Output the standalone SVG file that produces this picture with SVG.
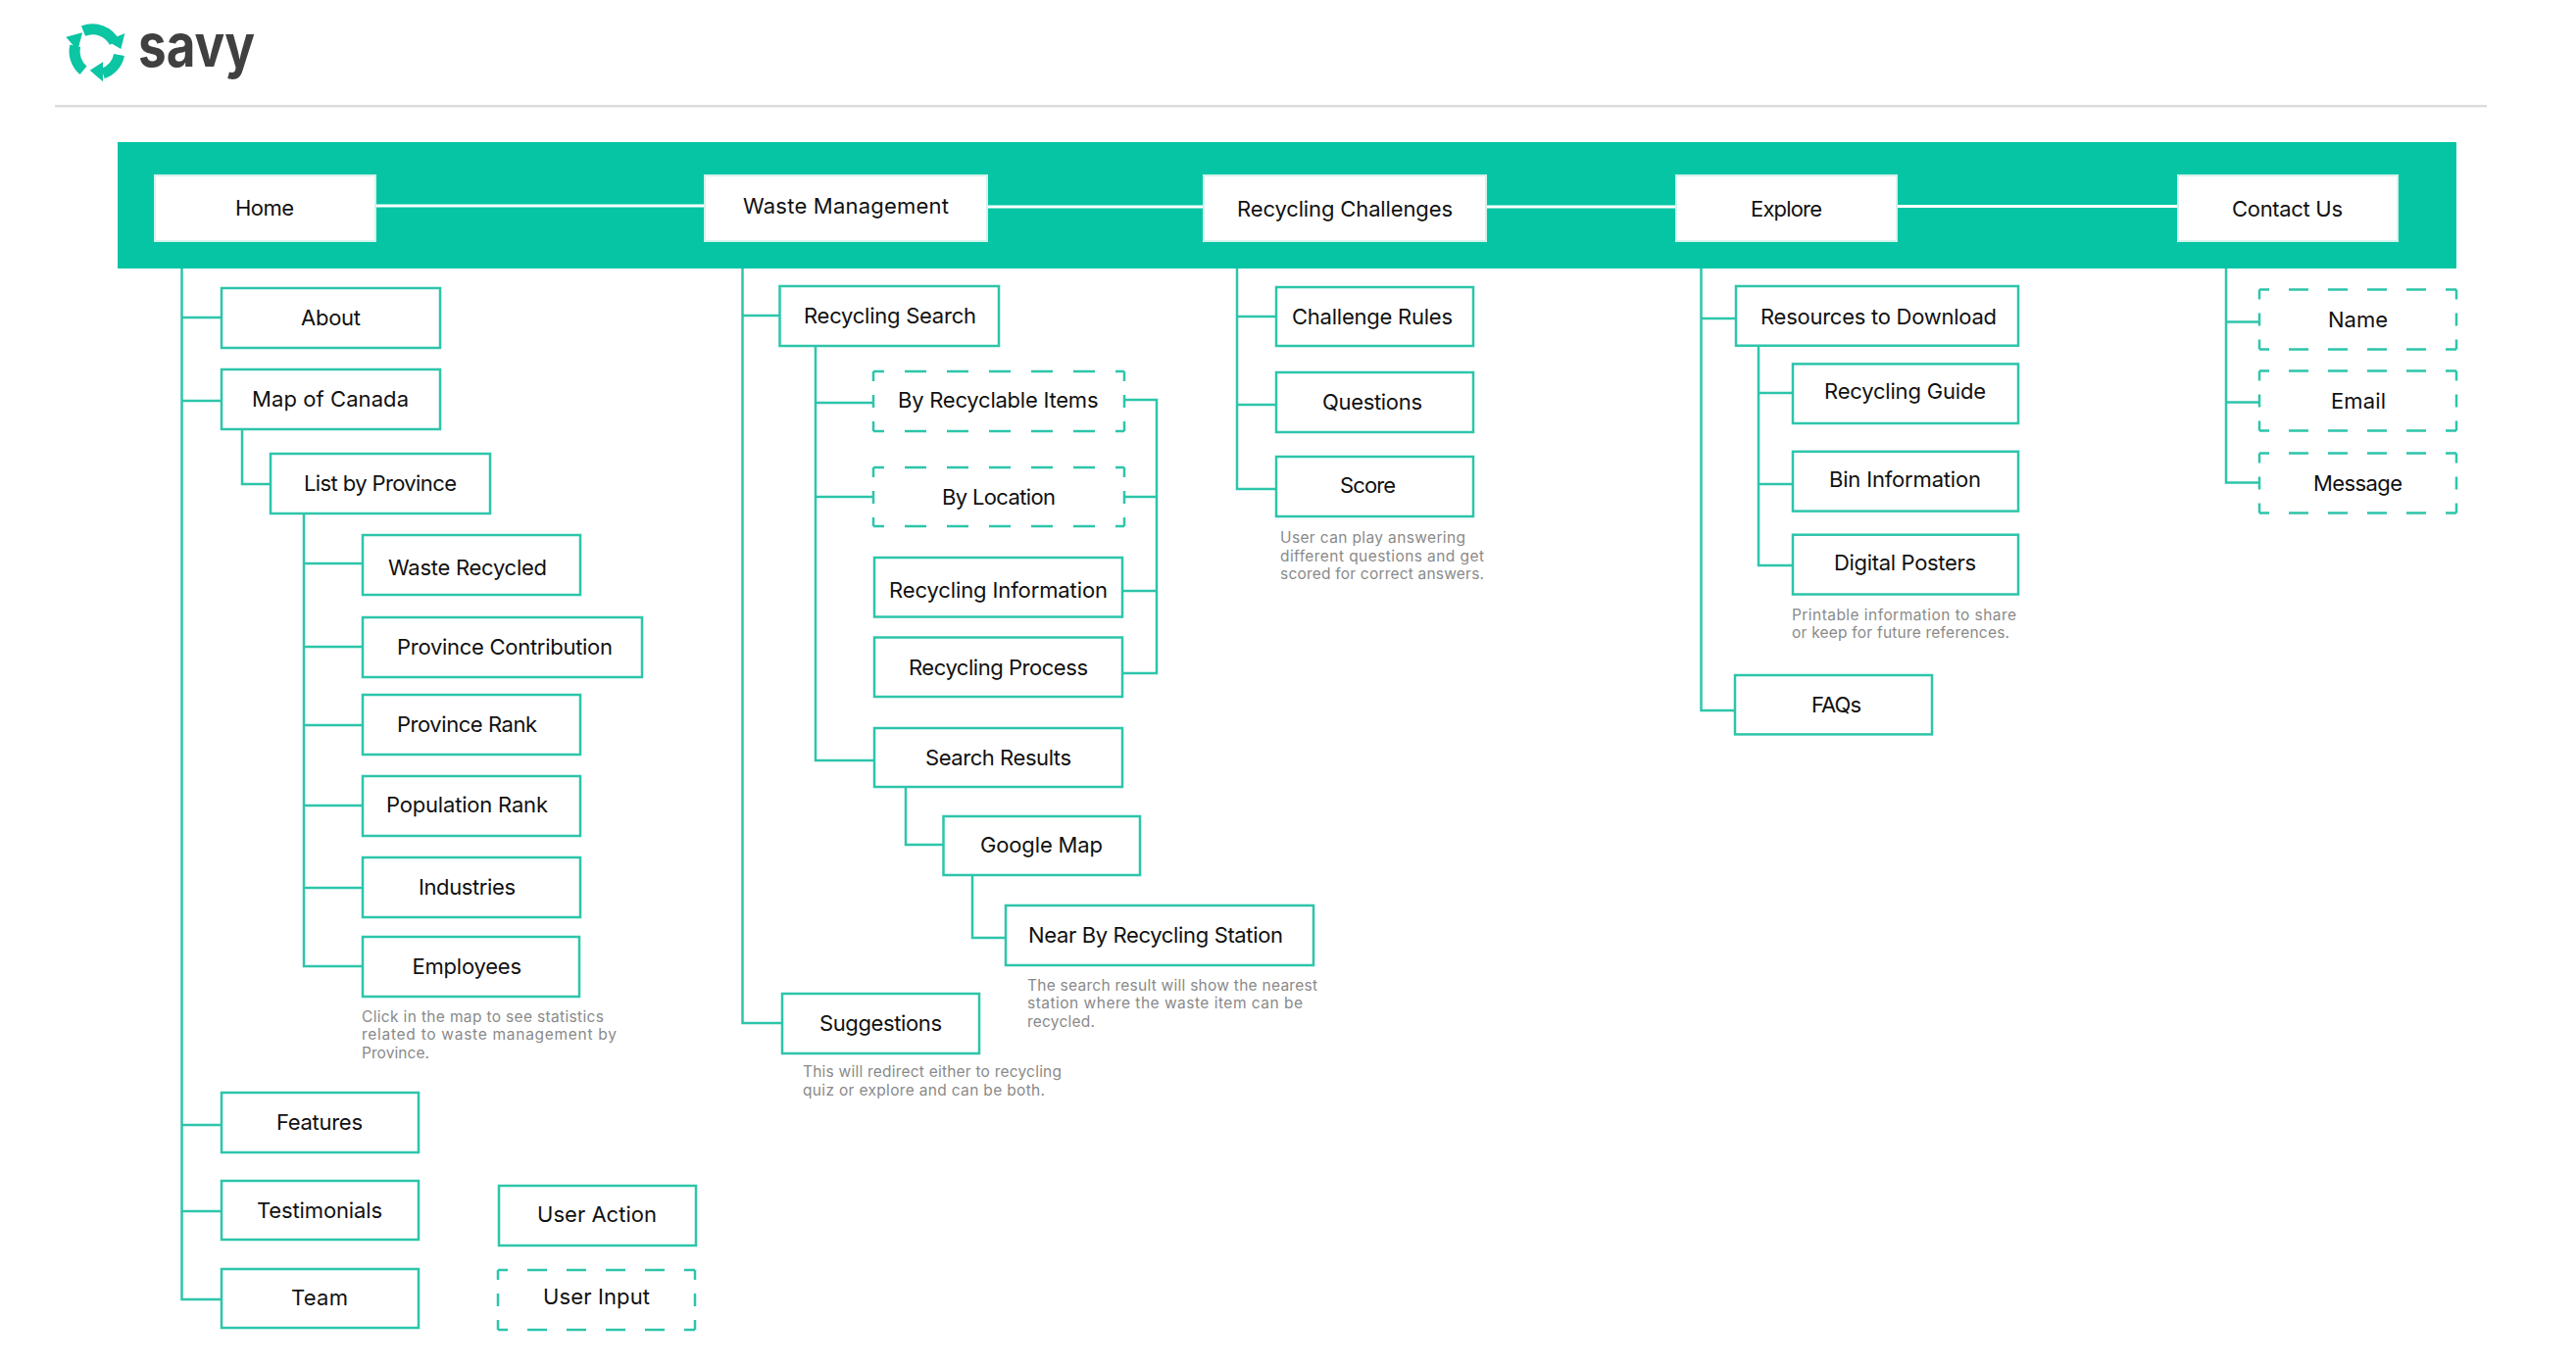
<svg xmlns="http://www.w3.org/2000/svg" width="2628" height="1396" viewBox="0 0 2628 1396">
<style>
text{font-family:"Inter","Liberation Sans",sans-serif;font-size:22px;fill:#111}
.note{font-size:15.500px;fill:#8a8a8a}
.b{fill:#fff;stroke:#2dc5aa;stroke-width:2.5}
.h{fill:#fff;stroke:#d4f2ec;stroke-width:2}
.c{fill:none;stroke:#2dc5aa;stroke-width:2.5}
.w{fill:none;stroke:#fff;stroke-width:3}
.dh{fill:none;stroke:#2dc5aa;stroke-width:2.5;stroke-dasharray:20 20;stroke-dashoffset:10}
.dh2{fill:none;stroke:#2dc5aa;stroke-width:2.5;stroke-dasharray:22 21;stroke-dashoffset:11}
.dv{fill:none;stroke:#2dc5aa;stroke-width:2.5;stroke-dasharray:13 14;stroke-dashoffset:3}
.lg{fill:none;stroke:#0bc5a3;stroke-width:11}
.lf{fill:#0bc5a3}
</style>
<rect width="2628" height="1396" fill="#fff"/>
<g id="logo">
<path class="lg" d="M85 31.700A25 25 0 0 1 116.700 43.300"/>
<polygon class="lf" points="127.300,34 123.300,50 109.300,41.700"/>
<path class="lg" d="M121.500 56A25 25 0 0 1 105 75"/>
<polygon class="lf" points="91.700,71.700 105,63.300 105,83.300"/>
<path class="lg" d="M85 71.700A25 25 0 0 1 76.700 46.700"/>
<polygon class="lf" points="67.300,37.700 84,33.300 79.300,51.700"/>
<text x="141" y="67.500" textLength="119" lengthAdjust="spacingAndGlyphs" style="font-size:61px;font-weight:700;fill:#404040">savy</text>
</g>
<rect id="rule" x="56" y="107" width="2481" height="2.5" fill="#dcdcdc"/>
<rect id="header-band" x="120" y="145" width="2386" height="129" fill="#06c5a4"/>
<g id="connectors">
<path class="w" d="M384 210H718M1008 211H1227M1517 211H1709M1936 210.500H2221"/>
<path class="c" d="M185.500 274V1326H226M185.500 324H226M185.500 409H226M185.500 1148H226M185.500 1236H226"/>
<path class="c" d="M247 438V494H276"/>
<path class="c" d="M310 524V986H370M310 575H370M310 660H370M310 740H370M310 822H370M310 906H370"/>
<path class="c" d="M757.500 274V1044H798M757.500 322H796"/>
<path class="c" d="M832 353V776H892M832 411H891M832 507H891"/>
<path class="c" d="M1147 408H1180V687H1145M1147 507H1180M1145 603H1180"/>
<path class="c" d="M924 803V862H962"/>
<path class="c" d="M992 893V957H1026"/>
<path class="c" d="M1262 274V499H1302M1262 323H1302M1262 413H1302"/>
<path class="c" d="M1735.500 274V725H1770M1735.500 325H1771"/>
<path class="c" d="M1794 352.700V577H1829M1794 401H1829M1794 494H1829"/>
<path class="c" d="M2271 274V492.500H2305M2271 328.500H2305M2271 410.500H2305"/>
</g>
<g id="home"><rect class="h" x="158" y="179" width="225" height="67"/><text x="240" y="220" textLength="60">Home</text></g>
<g id="waste-management"><rect class="h" x="719" y="179" width="288" height="67"/><text x="758" y="218" textLength="210">Waste Management</text></g>
<g id="recycling-challenges"><rect class="h" x="1228" y="179" width="288" height="67"/><text x="1262" y="221" textLength="220">Recycling Challenges</text></g>
<g id="explore"><rect class="h" x="1710" y="179" width="225" height="67"/><text x="1786" y="221" textLength="73">Explore</text></g>
<g id="contact-us"><rect class="h" x="2222" y="179" width="224" height="67"/><text x="2277" y="221" textLength="113">Contact Us</text></g>

<g id="about"><rect class="b" x="226" y="294" width="223" height="61"/><text x="307" y="332" textLength="61">About</text></g>
<g id="map-of-canada"><rect class="b" x="226" y="377" width="223" height="61"/><text x="257" y="415" textLength="160">Map of Canada</text></g>
<g id="list-by-province"><rect class="b" x="276" y="463" width="224" height="61"/><text x="310" y="501" textLength="156">List by Province</text></g>
<g id="waste-recycled"><rect class="b" x="370" y="546" width="222" height="61"/><text x="396" y="587" textLength="162">Waste Recycled</text></g>
<g id="province-contribution"><rect class="b" x="370" y="630" width="285" height="61"/><text x="405" y="668" textLength="220">Province Contribution</text></g>
<g id="province-rank"><rect class="b" x="370" y="709" width="222" height="61"/><text x="405" y="747" textLength="143">Province Rank</text></g>
<g id="population-rank"><rect class="b" x="370" y="792" width="222" height="61"/><text x="394" y="829" textLength="165">Population Rank</text></g>
<g id="industries"><rect class="b" x="370" y="875" width="222" height="61"/><text x="427" y="913" textLength="99">Industries</text></g>
<g id="employees"><rect class="b" x="370" y="956" width="221" height="61"/><text x="420.500" y="994" textLength="111.500">Employees</text></g>
<g id="note-map"><text class="note" x="369" y="1043" textLength="247">Click in the map to see statistics</text><text class="note" x="369" y="1061" textLength="260">related to waste management by</text><text class="note" x="369" y="1080" textLength="69">Province.</text></g>
<g id="features"><rect class="b" x="226" y="1115" width="201" height="61"/><text x="282" y="1153" textLength="88">Features</text></g>
<g id="testimonials"><rect class="b" x="226" y="1205" width="201" height="60"/><text x="262" y="1243" textLength="128">Testimonials</text></g>
<g id="team"><rect class="b" x="226" y="1295" width="201" height="60"/><text x="297" y="1332" textLength="58">Team</text></g>
<g id="user-action"><rect class="b" x="509" y="1210" width="201" height="61"/><text x="548" y="1247" textLength="122">User Action</text></g>
<g id="user-input"><path class="dh" d="M508 1296H709M508 1357H709"/><path class="dv" d="M508 1296V1357M709 1296V1357"/><text x="554" y="1331" textLength="109">User Input</text></g>

<g id="recycling-search"><rect class="b" x="795.500" y="292" width="223.500" height="61"/><text x="820" y="330" textLength="176">Recycling Search</text></g>
<g id="by-recyclable-items"><path class="dh2" d="M891 379H1147M891 440H1147"/><path class="dv" d="M891 379V440M1147 379V440"/><text x="916" y="416" textLength="204.500">By Recyclable Items</text></g>
<g id="by-location"><path class="dh2" d="M891 477H1147M891 537H1147"/><path class="dv" d="M891 477V537M1147 477V537"/><text x="961" y="515" textLength="116">By Location</text></g>
<g id="recycling-information"><rect class="b" x="892" y="569" width="253" height="60.500"/><text x="907" y="610" textLength="223">Recycling Information</text></g>
<g id="recycling-process"><rect class="b" x="892" y="650.500" width="253" height="60.500"/><text x="927" y="689" textLength="183">Recycling Process</text></g>
<g id="search-results"><rect class="b" x="892" y="743" width="253" height="60"/><text x="944" y="781" textLength="149">Search Results</text></g>
<g id="google-map"><rect class="b" x="962.500" y="833" width="200.500" height="60"/><text x="1000" y="870" textLength="125">Google Map</text></g>
<g id="near-by-recycling-station"><rect class="b" x="1026" y="924" width="314" height="61"/><text x="1049" y="962" textLength="260">Near By Recycling Station</text></g>
<g id="note-station"><text class="note" x="1048" y="1011" textLength="296">The search result will show the nearest</text><text class="note" x="1048" y="1029" textLength="281">station where the waste item can be</text><text class="note" x="1048" y="1048" textLength="69">recycled.</text></g>
<g id="suggestions"><rect class="b" x="798" y="1014" width="201" height="61"/><text x="836" y="1052" textLength="125">Suggestions</text></g>
<g id="note-suggestions"><text class="note" x="819" y="1099" textLength="264">This will redirect either to recycling</text><text class="note" x="819" y="1118" textLength="247">quiz or explore and can be both.</text></g>

<g id="challenge-rules"><rect class="b" x="1302" y="293" width="201" height="60"/><text x="1318" y="331" textLength="164">Challenge Rules</text></g>
<g id="questions"><rect class="b" x="1302" y="380" width="201" height="61"/><text x="1349" y="418" textLength="102">Questions</text></g>
<g id="score"><rect class="b" x="1302" y="466" width="201" height="61"/><text x="1367" y="503" textLength="57">Score</text></g>
<g id="note-score"><text class="note" x="1306" y="554" textLength="189">User can play answering</text><text class="note" x="1306" y="573" textLength="208">different questions and get</text><text class="note" x="1306" y="591" textLength="208">scored for correct answers.</text></g>

<g id="resources-to-download"><rect class="b" x="1771" y="292" width="288" height="60.700"/><text x="1796" y="331" textLength="241">Resources to Download</text></g>
<g id="recycling-guide"><rect class="b" x="1829" y="371.400" width="230" height="60.600"/><text x="1861" y="407" textLength="165">Recycling Guide</text></g>
<g id="bin-information"><rect class="b" x="1829" y="460.800" width="230" height="60.800"/><text x="1866" y="497" textLength="155">Bin Information</text></g>
<g id="digital-posters"><rect class="b" x="1829" y="545.700" width="230" height="60.800"/><text x="1871" y="581.600" textLength="145">Digital Posters</text></g>
<g id="note-posters"><text class="note" x="1828" y="633" textLength="229">Printable information to share</text><text class="note" x="1828" y="651.400" textLength="222">or keep for future references.</text></g>
<g id="faqs"><rect class="b" x="1770" y="689" width="201" height="60.400"/><text x="1848" y="726.500" textLength="51">FAQs</text></g>

<g id="name"><path class="dh" d="M2305 295.500H2506M2305 356.500H2506"/><path class="dv" d="M2305 295.500V356.500M2506 295.500V356.500"/><text x="2375" y="333.500" textLength="61">Name</text></g>
<g id="email"><path class="dh" d="M2305 378.500H2506M2305 439.500H2506"/><path class="dv" d="M2305 378.500V439.500M2506 378.500V439.500"/><text x="2378" y="416.500" textLength="56">Email</text></g>
<g id="message"><path class="dh" d="M2305 462.500H2506M2305 523.500H2506"/><path class="dv" d="M2305 462.500V523.500M2506 462.500V523.500"/><text x="2360" y="501" textLength="91">Message</text></g>
</svg>
